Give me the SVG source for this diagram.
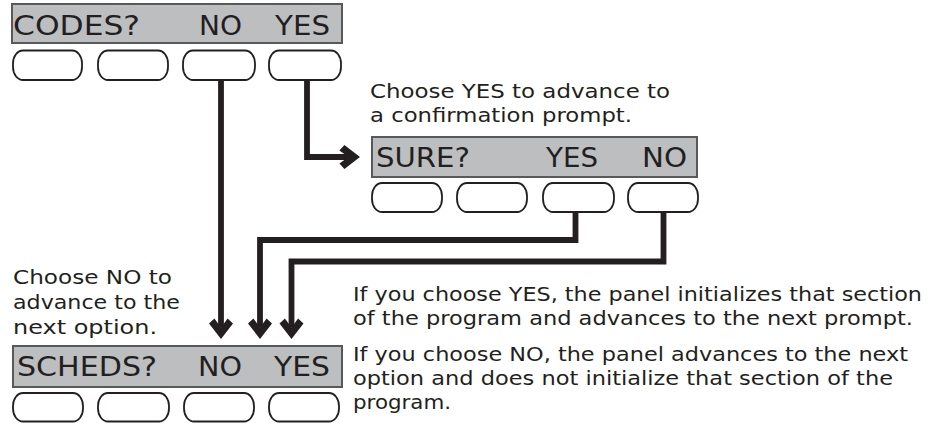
<svg xmlns="http://www.w3.org/2000/svg" width="931" height="423" viewBox="0 0 931 423">
<defs>
<style>
.disp{fill:#bcbec0;stroke:#58595b;stroke-width:2}
.btn{fill:#ffffff;stroke:#231f20;stroke-width:1.8}
.dt{font-family:"DejaVu Sans",sans-serif;font-size:26.5px;fill:#231f20}
.nt{font-family:"DejaVu Sans",sans-serif;font-size:19.5px;fill:#231f20}
.wire{fill:none;stroke:#231f20;stroke-width:5.8;stroke-linejoin:miter;stroke-linecap:butt}
</style>
<marker id="chev" markerUnits="userSpaceOnUse" viewBox="-22 -13 23 26" markerWidth="23" markerHeight="26" refX="-11.5" refY="0" orient="auto">
<path d="M0,0 L-15.6,-12 L-20.6,-6.6 L-11.5,0 L-20.6,6.6 L-15.6,12 Z" fill="#231f20"/>
</marker>
</defs>
<rect width="931" height="423" fill="#ffffff"/>

<g id="connectors">
<path class="wire" d="M221,80 V327.5" marker-end="url(#chev)"/>
<path class="wire" d="M307,80 V157 H348.5" marker-end="url(#chev)"/>
<path class="wire" d="M575.5,212 V240 H260 V327.5" marker-end="url(#chev)"/>
<path class="wire" d="M663.5,212 V261.5 H291.5 V327.5" marker-end="url(#chev)"/>
</g>

<g id="codes">
<rect class="disp" x="12" y="4" width="330" height="39"/>
<text class="dt" x="13" y="35" textLength="127" lengthAdjust="spacingAndGlyphs">CODES?</text>
<text class="dt" x="199" y="35" textLength="43" lengthAdjust="spacingAndGlyphs">NO</text>
<text class="dt" x="275" y="35" textLength="55" lengthAdjust="spacingAndGlyphs">YES</text>
<rect class="btn" x="13" y="50.5" width="69" height="29.5" rx="10" ry="13"/>
<rect class="btn" x="98" y="50.5" width="70" height="29.5" rx="10" ry="13"/>
<rect class="btn" x="183" y="50.5" width="72" height="29.5" rx="10" ry="13"/>
<rect class="btn" x="269" y="50.5" width="72" height="29.5" rx="10" ry="13"/>
</g>

<g id="note-yes">
<text class="nt" x="370" y="98" textLength="300" lengthAdjust="spacingAndGlyphs">Choose YES to advance to</text>
<text class="nt" x="370" y="122" textLength="262" lengthAdjust="spacingAndGlyphs">a confirmation prompt.</text>
</g>

<g id="sure">
<rect class="disp" x="372" y="137" width="325" height="40"/>
<text class="dt" x="376" y="167" textLength="94" lengthAdjust="spacingAndGlyphs">SURE?</text>
<text class="dt" x="546" y="167" textLength="52" lengthAdjust="spacingAndGlyphs">YES</text>
<text class="dt" x="642" y="167" textLength="45" lengthAdjust="spacingAndGlyphs">NO</text>
<rect class="btn" x="372" y="183" width="70" height="29" rx="10" ry="13"/>
<rect class="btn" x="457" y="183" width="70" height="29" rx="10" ry="13"/>
<rect class="btn" x="543" y="183" width="71" height="29" rx="10" ry="13"/>
<rect class="btn" x="628" y="183" width="70" height="29" rx="10" ry="13"/>
</g>

<g id="note-no">
<text class="nt" x="13" y="284" textLength="159" lengthAdjust="spacingAndGlyphs">Choose NO to</text>
<text class="nt" x="13" y="309" textLength="167" lengthAdjust="spacingAndGlyphs">advance to the</text>
<text class="nt" x="13" y="334" textLength="144" lengthAdjust="spacingAndGlyphs">next option.</text>
</g>

<g id="note-result">
<text class="nt" x="353" y="301" textLength="569" lengthAdjust="spacingAndGlyphs">If you choose YES, the panel initializes that section</text>
<text class="nt" x="353" y="325" textLength="560" lengthAdjust="spacingAndGlyphs">of the program and advances to the next prompt.</text>
<text class="nt" x="353" y="361" textLength="555" lengthAdjust="spacingAndGlyphs">If you choose NO, the panel advances to the next</text>
<text class="nt" x="353" y="385" textLength="540" lengthAdjust="spacingAndGlyphs">option and does not initialize that section of the</text>
<text class="nt" x="353" y="409" textLength="98" lengthAdjust="spacingAndGlyphs">program.</text>
</g>

<g id="scheds">
<rect class="disp" x="13" y="346" width="329" height="41"/>
<text class="dt" x="17" y="376" textLength="140" lengthAdjust="spacingAndGlyphs">SCHEDS?</text>
<text class="dt" x="198" y="376" textLength="44" lengthAdjust="spacingAndGlyphs">NO</text>
<text class="dt" x="274" y="376" textLength="56" lengthAdjust="spacingAndGlyphs">YES</text>
<rect class="btn" x="13" y="393" width="70" height="28.5" rx="10" ry="13"/>
<rect class="btn" x="98" y="393" width="71" height="28.5" rx="10" ry="13"/>
<rect class="btn" x="184" y="393" width="70" height="28.5" rx="10" ry="13"/>
<rect class="btn" x="269" y="393" width="70" height="28.5" rx="10" ry="13"/>
</g>
</svg>
